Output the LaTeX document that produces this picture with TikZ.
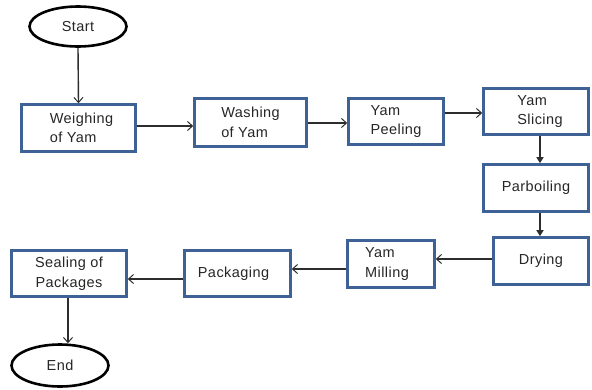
\documentclass[tikz,border=0pt]{standalone}
\usepackage{fontspec}
\setmainfont{Liberation Sans}[LetterSpace=3]
\usetikzlibrary{arrows.meta,shapes.geometric,shadows}
\definecolor{boxblue}{RGB}{62,98,150}
\definecolor{shadowgray}{RGB}{205,212,224}
\definecolor{linegray}{RGB}{45,45,45}
\tikzset{
  procbox/.style={draw=boxblue, line width=2.6pt, fill=white, rectangle,
    inner sep=0pt, align=left, font=\fontsize{14.5}{19.5}\selectfont,
    text=black!85,
    drop shadow={shadow xshift=1.2pt, shadow yshift=-1.6pt, fill=shadowgray, opacity=1}},
  terminal/.style={draw=black, line width=2.6pt, ellipse, fill=white, inner sep=0pt,
    font=\fontsize{14.5}{19.5}\selectfont, text=black!85},
  openarr/.style={draw=linegray, line width=1.4pt, -{Straight Barb[length=5pt,width=9pt,line width=1pt]}},
  solidarr/.style={draw=linegray, line width=1.4pt, -{Triangle[length=6pt,width=7pt]}}
}
\begin{document}
\begin{tikzpicture}[x=1pt,y=-1pt]
\useasboundingbox (0,0) rectangle (592,389);

% start / end terminals
\node[terminal, minimum width=97pt, minimum height=40pt] (start) at (78,26.5) {Start};
\node[terminal, minimum width=97pt, minimum height=42pt] (end) at (60,365.5) {End};

% process steps
\node[procbox, minimum width=114pt, minimum height=47pt] (weigh) at (78.5,128) {\hspace*{6pt}Weighing\\\hspace*{6pt}of Yam};
\node[procbox, minimum width=112pt, minimum height=48pt] (wash) at (250.5,122.5) {Washing\\of Yam};
\node[procbox, minimum width=95pt, minimum height=46pt] (peel) at (396,121.5) {Yam\\Peeling};
\node[procbox, minimum width=105pt, minimum height=46pt] (slice) at (536,111.5) {\hspace*{8pt}Yam\\\hspace*{8pt}Slicing};
\node[procbox, minimum width=105pt, minimum height=47pt] (parb) at (536,188) {Parboiling};
\node[procbox, minimum width=95pt, minimum height=47pt] (dry) at (541,261) {Drying};
\node[procbox, minimum width=87pt, minimum height=47pt] (mill) at (391,264) {Yam\\Milling\hspace*{8pt}};
\node[procbox, minimum width=106pt, minimum height=46pt] (pack) at (237.5,273.5) {Packaging\hspace*{8pt}};
\node[procbox, minimum width=115pt, minimum height=46pt, align=center] (seal) at (69,273.5) {Sealing of\\Packages};

% connectors
\draw[openarr] (start.south) -- (weigh.north);
\draw[openarr] (weigh.east |- 0,126) -- (wash.west |- 0,126);
\draw[openarr] (wash.east |- 0,123) -- (peel.west |- 0,123);
\draw[openarr] (peel.east |- 0,113) -- (slice.west |- 0,113);
\draw[solidarr] (slice.south -| 540,0) -- (parb.north -| 540,0);
\draw[solidarr] (parb.south -| 540,0) -- (dry.north -| 540,0);
\draw[openarr] (dry.west |- 0,259) -- (mill.east |- 0,259);
\draw[openarr] (mill.west |- 0,269) -- (pack.east |- 0,269);
\draw[openarr] (pack.west |- 0,279) -- (seal.east |- 0,279);
\draw[openarr] (seal.south -| 68,0) -- (end.north -| 68,0);
\end{tikzpicture}
\end{document}
